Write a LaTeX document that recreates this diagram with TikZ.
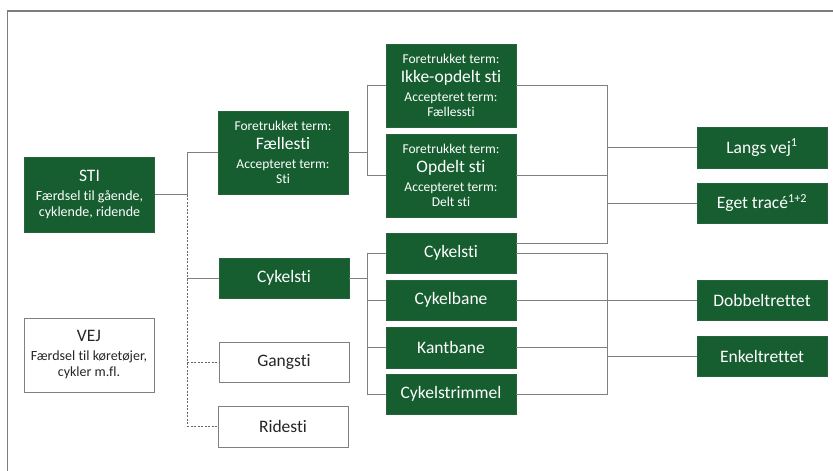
\documentclass[tikz,border=0pt]{standalone}
\usepackage{fontspec}
\setmainfont{Carlito}[Ligatures={NoCommon,NoContextual}]
\definecolor{boxgreen}{RGB}{22,94,48}
\definecolor{linegray}{RGB}{128,128,128}
\definecolor{framegray}{RGB}{125,125,125}
\definecolor{darktext}{RGB}{38,38,38}
\newcommand{\termtext}[2]{{\fontsize{13.5}{14}\selectfont Foretrukket term:}\\[5pt]{\fontsize{17.5}{18}\selectfont #1}\\[5pt]{\fontsize{13.5}{14}\selectfont Accepteret term:}\\[1pt]{\fontsize{13.5}{14}\selectfont #2}}
\tikzset{
  greenbox/.style={draw=boxgreen!85!gray, line width=0.6pt, fill=boxgreen, text=white, inner sep=0pt,
    minimum width=130pt, align=center, font=\fontsize{17.5}{18}\selectfont},
  whitebox/.style={draw=linegray, line width=0.8pt, fill=white, text=darktext, inner sep=0pt,
    minimum width=130pt, align=center, font=\fontsize{17.5}{18}\selectfont},
  conn/.style={draw=linegray, line width=0.9pt},
  dconn/.style={draw=linegray!80!black, line width=0.9pt, dash pattern=on 2pt off 1.5pt},
  framestyle/.style={draw=framegray, line width=1.6pt}
}
\begin{document}
\begin{tikzpicture}[x=1pt,y=-1pt]
\useasboundingbox (0,0) rectangle (833,471);
% frame
\coordinate (ftl) at (7.5,11);
\coordinate (ftr) at (833,11);
\coordinate (fbl) at (7.5,471);
\draw[framestyle] (ftr) -- (ftl) -- (fbl);

% left column
\node[greenbox, minimum height=75pt, font=\fontsize{14}{16}\selectfont] (sti) at (89.5,194.5)
  {{\fontsize{17.5}{18}\selectfont STI}\\[3pt]Færdsel til gående,\\cyklende, ridende};
\node[whitebox, minimum height=74pt, font=\fontsize{14}{16}\selectfont] (vej) at (89,355)
  {{\fontsize{17.5}{18}\selectfont VEJ}\\[3pt]Færdsel til køretøjer,\\cykler m.fl.};

% second column
\node[greenbox, minimum height=83pt, font=\fontsize{13.5}{14}\selectfont] (fael) at (283,152.5) {\termtext{Fællesti}{Sti}};
\node[greenbox, minimum height=40pt] (cyk1) at (284,278) {Cykelsti};
\node[whitebox, minimum height=40pt] (gang) at (284,362) {Gangsti};
\node[whitebox, minimum height=41pt] (ride) at (283,426.5) {Ridesti};

% third column
\node[greenbox, minimum height=83pt, font=\fontsize{13.5}{14}\selectfont] (ikke) at (451,85.5) {\termtext{Ikke-opdelt sti}{Fællessti}};
\node[greenbox, minimum height=83pt, font=\fontsize{13.5}{14}\selectfont] (opd) at (451,175.5) {\termtext{Opdelt sti}{Delt sti}};
\node[greenbox, minimum height=40pt] (cyk2) at (451,253) {Cykelsti};
\node[greenbox, minimum height=40pt] (bane) at (451,300) {Cykelbane};
\node[greenbox, minimum height=41pt] (kant) at (451,347.5) {Kantbane};
\node[greenbox, minimum height=40pt] (strim) at (451,394) {Cykelstrimmel};

% right column
\node[greenbox, minimum height=41pt] (langs) at (762,147.5) {Langs vej\textsuperscript{1}};
\node[greenbox, minimum height=40pt] (eget) at (762,203) {Eget tracé\textsuperscript{1+2}};
\node[greenbox, minimum height=40pt] (dobb) at (762,300) {Dobbeltrettet};
\node[greenbox, minimum height=40pt] (enk) at (762,356) {Enkeltrettet};

% junction columns
\coordinate (xa) at (187,0);
\coordinate (xb) at (367,0);
\coordinate (xc) at (607,0);
\coordinate (ja) at (sti.east -| xa);

% STI connectors
\draw[conn] (sti.east) -- (ja);
\draw[conn] (ja) |- (fael.west);
\draw[conn] (cyk1.west) -- (cyk1.west -| xa);
\draw[dconn] (ja) -- (ride.west -| xa);
\draw[dconn] (gang.west -| xa) -- (gang.west);
\draw[dconn] (ride.west -| xa) -- (ride.west);

% Faellesti connectors
\draw[conn] (fael.east) -- (fael.east -| xb);
\draw[conn] (ikke.west) -- (ikke.west -| xb) -- (opd.west -| xb) -- (opd.west);

% Cykelsti connectors (left)
\draw[conn] (cyk1.east) -- (cyk1.east -| xb);
\draw[conn] (cyk2.west) -- (cyk2.west -| xb) -- (strim.west -| xb) -- (strim.west);
\draw[conn] (bane.west) -- (bane.west -| xb);
\draw[conn] (kant.west) -- (kant.west -| xb);

% right group 1
\coordinate (cyk2up) at ([yshift=10pt]cyk2.east);
\draw[conn] (ikke.east) -- (ikke.east -| xc) -- (cyk2up -| xc) -- (cyk2up);
\draw[conn] (opd.east) -- (opd.east -| xc);
\draw[conn] (langs.west) -- (langs.west -| xc);
\draw[conn] (eget.west) -- (eget.west -| xc);

% right group 2
\draw[conn] (cyk2.east) -- (cyk2.east -| xc) -- (strim.east -| xc) -- (strim.east);
\draw[conn] (bane.east) -- (dobb.west);
\draw[conn] (kant.east) -- (kant.east -| xc);
\draw[conn] (enk.west) -- (enk.west -| xc);
\end{tikzpicture}
\end{document}
